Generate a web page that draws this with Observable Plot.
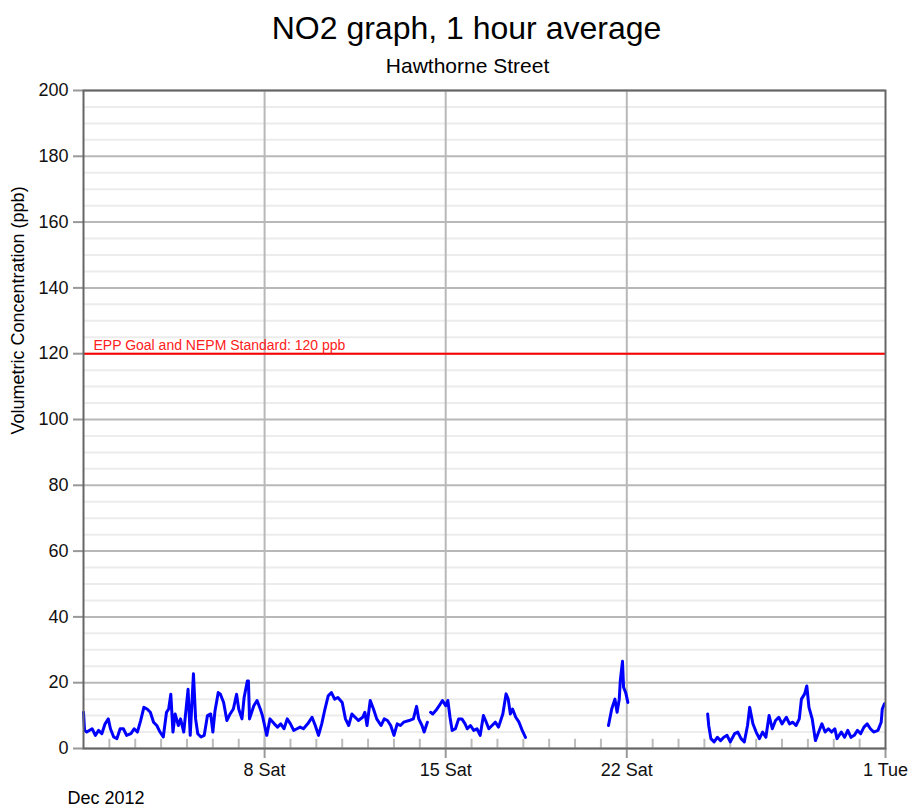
<!DOCTYPE html>
<html>
<head>
<meta charset="utf-8">
<script src="https://cdn.jsdelivr.net/npm/d3@7"></script>
<script src="https://cdn.jsdelivr.net/npm/@observablehq/plot@0.6"></script>
<style>
  html, body { margin: 0; padding: 0; background: #fff; }
  #chart svg { display: block; }
  [aria-label$="axis tick"], [aria-label$="axis tick"] * { stroke: #999 !important; stroke-width: 2px; }
</style>
</head>
<body>
<div id="chart"></div>
<script>
const title = "NO2 graph, 1 hour average";
const subtitle = "Hawthorne Street";
const yLabel = "Volumetric Concentration (ppb)";
const standardLabel = "EPP Goal and NEPM Standard: 120 ppb";
const standardValue = 120;
const monthLabel = "Dec 2012";
const yTicks = [0, 20, 40, 60, 80, 100, 120, 140, 160, 180, 200];
const xTickDates = ["2012-12-08", "2012-12-15", "2012-12-22", "2013-01-01"];
const xTickLabels = ["8 Sat", "15 Sat", "22 Sat", "1 Tue"];
const weekGridDates = ["2012-12-08", "2012-12-15", "2012-12-22"];

// hours since 2012-12-01 00:00, and NO2 (ppb); null = missing data
const hours = [
  0,1,3,8,11,14,17,20,23,25,28,31,34,37,40,44,47,50,53,56,59,62,65,68,71,74,77,79,81,83,85,88,90,93,97,99,
  102,104,106,109,112,115,118,120,122,125,127,130,133,136,139,142,144,147,149,152,153,154,158,161,164,166,168,170,173,177,
  180,183,186,189,192,195,198,201,204,208,212,215,218,221,224,227,230,233,236,240,243,246,249,252,255,259,261,263,266,269,
  272,276,279,282,285,288,291,294,297,302,306,309,311,314,316,319,320,
  322,324,327,330,333,336,338,340,342,345,348,351,354,356,359,362,365,368,371,373,376,379,382,385,389,392,394,396,398,401,404,407,410,411,
  487,490,493,495,497,498,500,501,503,505,506,
  579,580,582,585,588,591,594,597,600,604,607,610,613,616,618,621,624,627,630,633,636,639,642,645,648,652,655,658,661,664,666,669,671,673,676,679,
  682,685,688,691,694,697,699,703,706,709,712,715,718,721,724,727,730,733,737,740,741,743
];
const no2 = [
  11,5.5,5,6,4,5.5,4.5,7.5,9,6,3.5,3,6,6,4,4.5,6,5,8.5,12.5,12,11,8,7,5,3.5,11,12,16.5,5,10.5,7,9,5,18,4,
  22.7,9,4.5,3.5,4,10,10.5,5,11.5,17,16.5,14,8.5,10.5,12,16.5,12,9,15.5,20.5,20.5,9,13,14.6,12,10,7,4,9,7.5,
  6.5,7.5,6,9,7.5,5.5,6,6.5,6,7.5,9.5,7,4,7.5,12,16,17,15,15.5,14,9,7,10.5,9.5,8.5,9.5,11,7,14.6,12,
  9,7,9,8.5,7,4,7.5,7,8,8.5,9,12.8,9,7,5,8,null,
  11,10.5,11.6,13,14.6,13,14.6,9.5,5.5,6,9,9,7.5,6,7,5.5,6,4,10,8.5,6,7,8,6.5,10.5,16.6,15,10.5,12,9.5,8,5.5,3.4,null,
  7,12,15,11,15,20.7,26.5,18.6,17,14,null,
  10.5,7,3,2,3.4,2.4,3.4,4,2,4.5,5,3,2,7,12.5,7.5,5,3,5,3.4,10,6,8.5,9.5,7.5,9.5,7.5,8,7,9,15,16.6,19,12.5,9,2.4,
  5,7.5,5,6,5,6,3,5,3.4,5.5,3.4,4,5.5,4.5,6.5,7.5,6,5,5.5,8,12,13.6
];

const t0 = Date.UTC(2012, 11, 1);
const rows = hours.map((h, i) => ({date: new Date(t0 + h * 3600e3), value: no2[i]}));
const xTicks = xTickDates.map(s => new Date(s + "T00:00:00Z"));
const weekGrid = weekGridDates.map(s => new Date(s + "T00:00:00Z"));
const days = d3.utcDays(new Date(Date.UTC(2012, 11, 2)), new Date(Date.UTC(2012, 11, 31, 1)));
const minorY = d3.range(0, 201, 5).filter(v => v % 20 !== 0);

const font = "'Liberation Sans', Arial, Helvetica, sans-serif";

const chart = Plot.plot({
  width: 908,
  height: 810,
  marginLeft: 83,
  marginRight: 23,
  marginTop: 90,
  marginBottom: 62,
  style: {fontFamily: font, fontSize: "18px", color: "#111", background: "#fff"},
  x: {
    type: "utc",
    domain: [new Date(t0), new Date(Date.UTC(2013, 0, 1))],
    ticks: xTicks,
    tickFormat: d => xTickLabels[xTicks.findIndex(t => +t === +d)],
    tickSize: 10,
    tickPadding: 5,
    label: null
  },
  y: {
    domain: [0, 200],
    ticks: yTicks,
    tickSize: 10,
    tickPadding: 5,
    label: null
  },
  marks: [
    Plot.ruleY(minorY, {stroke: "#ececec", strokeWidth: 2}),
    Plot.ruleY(yTicks, {stroke: "#b8b8b8", strokeWidth: 2}),
    Plot.ruleX(weekGrid, {stroke: "#b8b8b8", strokeWidth: 2}),
    Plot.ruleX(days, {x: d => d, y1: 0, y2: 2.8, stroke: "#bbb", strokeWidth: 2}),
    Plot.ruleY([standardValue], {stroke: "#ff0000", strokeWidth: 2}),
    Plot.text([standardLabel], {frameAnchor: "left", y: () => standardValue, dx: 10, dy: -4, textAnchor: "start", lineAnchor: "bottom", fill: "#ff2020", fontSize: 14}),
    Plot.line(rows, {x: "date", y: "value", stroke: "#0000ff", strokeWidth: 3, strokeLinejoin: "round"}),
    Plot.frame({stroke: "#666", strokeWidth: 2}),
    Plot.text([title], {frameAnchor: "top", dx: -18, dy: -52, lineAnchor: "bottom", fontSize: 32, fill: "#000"}),
    Plot.text([subtitle], {frameAnchor: "top", dx: -17, dy: -18, lineAnchor: "bottom", fontSize: 21, fill: "#000"}),
    Plot.text([yLabel], {frameAnchor: "left", rotate: -90, dx: -65, dy: 15, lineAnchor: "middle", fontSize: 18, fill: "#000"}),
    Plot.text([monthLabel], {frameAnchor: "bottom-left", dx: -16, dy: 55, textAnchor: "start", lineAnchor: "bottom", fontSize: 18, fill: "#000"})
  ]
});
document.getElementById("chart").appendChild(chart);
</script>
</body>
</html>
